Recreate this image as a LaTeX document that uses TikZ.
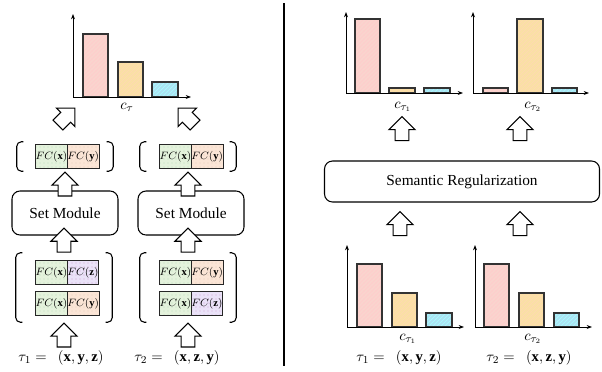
\documentclass[tikz,border=0pt]{standalone}
\usepackage{fontspec}
\setmainfont{Liberation Serif}
\usetikzlibrary{shapes.arrows, arrows.meta, positioning, patterns}

\definecolor{barred}{RGB}{250,212,206}
\definecolor{baryellow}{RGB}{250,224,165}
\definecolor{barcyan}{RGB}{172,226,242}
\definecolor{fcgreen}{RGB}{228,242,220}
\definecolor{fcorange}{RGB}{251,229,214}
\definecolor{fcpurple}{RGB}{234,226,248}

\tikzstyle{module} = [rectangle, rounded corners=6pt, draw=black, line width=0.8pt, fill=white, minimum width=79.5pt, minimum height=33pt, font=\fontsize{11.5}{13}\selectfont]
\tikzstyle{fc_cell} = [rectangle, draw=black!85, line width=0.8pt, inner sep=0pt, outer sep=0pt, minimum width=21.75pt, minimum height=18pt, font=\fontsize{8}{9}\selectfont]
\tikzstyle{fc_x} = [fc_cell, preaction={fill=fcgreen}, pattern=dots, pattern color=green!50!black!25]
\tikzstyle{fc_y} = [fc_cell, preaction={fill=fcorange}, pattern=dots, pattern color=orange!60!black!25]
\tikzstyle{fc_z} = [fc_cell, preaction={fill=fcpurple}, pattern=dots, pattern color=violet!35]
\tikzstyle{group} = [rectangle, inner sep=0pt, minimum width=72pt]
\tikzstyle{bracket} = [line width=0.8pt, rounded corners=3.5pt]
\tikzstyle{hollow_arrow} = [single arrow, draw=black, fill=white, line width=0.8pt, inner xsep=0pt, inner ysep=4.8pt, minimum height=18pt, single arrow head extend=4.6pt]
\tikzstyle{bar} = [draw=black!80, line width=0.9pt]
\tikzstyle{bar_red} = [bar, preaction={fill=barred}, pattern=north east lines, pattern color=red!20]
\tikzstyle{bar_yellow} = [bar, preaction={fill=baryellow}, pattern=north east lines, pattern color=orange!30]
\tikzstyle{bar_cyan} = [bar, preaction={fill=barcyan}, pattern=north east lines, pattern color=cyan!35]
\tikzstyle{axis} = [line width=0.7pt, -{Stealth[length=4pt, width=3pt]}]
\tikzstyle{tau_label} = [font=\fontsize{11}{13}\selectfont]
\tikzstyle{class_label} = [font=\fontsize{11}{13}\selectfont]

\begin{document}
\begin{tikzpicture}[x=0.75pt, y=-0.75pt]

    \useasboundingbox (0,0) rectangle (602,371);

    % Left: two set modules
    \node (fc_top1a) [fc_x] at (51.5,156.5) {$FC(\mathbf{x})$};
    \node (fc_top1b) [fc_y, right=0pt of fc_top1a] {$FC(\mathbf{y})$};
    \node (fc_top2a) [fc_x] at (175.5,156.5) {$FC(\mathbf{x})$};
    \node (fc_top2b) [fc_y, right=0pt of fc_top2a] {$FC(\mathbf{y})$};

    \node (fc_bot1a) [fc_x] at (51.5,272.5) {$FC(\mathbf{x})$};
    \node (fc_bot1b) [fc_z, right=0pt of fc_bot1a] {$FC(\mathbf{z})$};
    \node (fc_bot1c) [fc_x] at (51.5,303.5) {$FC(\mathbf{x})$};
    \node (fc_bot1d) [fc_y, right=0pt of fc_bot1c] {$FC(\mathbf{y})$};

    \node (fc_bot2a) [fc_x] at (175.5,272.5) {$FC(\mathbf{x})$};
    \node (fc_bot2b) [fc_y, right=0pt of fc_bot2a] {$FC(\mathbf{y})$};
    \node (fc_bot2c) [fc_x] at (175.5,303.5) {$FC(\mathbf{x})$};
    \node (fc_bot2d) [fc_z, right=0pt of fc_bot2c] {$FC(\mathbf{z})$};

    \node (grp_top1) [group, minimum height=21.75pt] at (65,156.5) {};
    \node (grp_top2) [group, minimum height=21.75pt] at (188,156.5) {};
    \node (grp_bot1) [group, minimum height=51.75pt] at (64,287.5) {};
    \node (grp_bot2) [group, minimum height=51.75pt] at (188,287.5) {};

    \foreach \g in {grp_top1, grp_top2, grp_bot1, grp_bot2} {
        \draw [bracket] ([xshift=5pt]\g.north west) -- (\g.north west) -- (\g.south west) -- ([xshift=5pt]\g.south west);
        \draw [bracket] ([xshift=-5pt]\g.north east) -- (\g.north east) -- (\g.south east) -- ([xshift=-5pt]\g.south east);
    }

    \node (setmod1) [module] at (65,213) {Set Module};
    \node (setmod2) [module] at (191,213) {Set Module};

    \node (in1) [hollow_arrow, anchor=tip, rotate=90] at (grp_bot1.south) {};
    \node (in2) [hollow_arrow, anchor=tip, rotate=90] at (grp_bot2.south) {};
    \node (mid1) [hollow_arrow, anchor=tail, rotate=90] at (grp_bot1.north) {};
    \node (mid2) [hollow_arrow, anchor=tail, rotate=90] at (grp_bot2.north) {};
    \node (up1) [hollow_arrow, anchor=tip, rotate=90] at (grp_top1.south) {};
    \node (up2) [hollow_arrow, anchor=tip, rotate=90] at (grp_top2.south) {};
    \node (out1) [hollow_arrow, rotate=45] at (64,119) {};
    \node (out2) [hollow_arrow, rotate=135] at (189,119) {};

    \node (tau1) [tau_label] at (61,358) {$\tau_1 =\ \ (\mathbf{x},\mathbf{y},\mathbf{z})$};
    \node (tau2) [tau_label] at (177,358) {$\tau_2 =\ \ (\mathbf{x},\mathbf{z},\mathbf{y})$};

    % Left histogram
    \draw [bar_red] (83,97) rectangle (108,34);
    \draw [bar_yellow] (118,97) rectangle (143,62);
    \draw [bar_cyan] (152,97) rectangle (178,82);
    \draw [axis] (73,97) -- (73,14);
    \draw [axis] (73,97) -- (191,97);
    \node (ctau) [class_label] at (127,107) {$c_\tau$};

    % Divider
    \draw [line width=0.9pt] (284,3) -- (284,366);

    % Right: semantic regularization
    \node (semreg) [module, minimum width=206.25pt, minimum height=30.75pt] at (462,181.5) {Semantic Regularization};

    \node (reg_in1) [hollow_arrow, rotate=90] at (400,227) {};
    \node (reg_in2) [hollow_arrow, rotate=90] at (520,227) {};
    \node (reg_out1) [hollow_arrow, rotate=90] at (402,132) {};
    \node (reg_out2) [hollow_arrow, rotate=90] at (520,132) {};

    % Regularized histograms
    \draw [bar_red] (355,93) rectangle (380,19);
    \draw [bar_yellow] (389,93) rectangle (415,88);
    \draw [bar_cyan] (424,93) rectangle (450,88);
    \draw [axis] (346,93) -- (346,12);
    \draw [axis] (346,93) -- (463,93);
    \node (ctau_r1) [class_label] at (403,107) {$c_{\tau_1}$};

    \draw [bar_red] (483,93) rectangle (508,88);
    \draw [bar_yellow] (517,93) rectangle (543,19);
    \draw [bar_cyan] (552,93) rectangle (577,88);
    \draw [axis] (473,93) -- (473,12);
    \draw [axis] (473,93) -- (589,93);
    \node (ctau_r2) [class_label] at (533,107) {$c_{\tau_2}$};

    % Input histograms
    \draw [bar_red] (357,327) rectangle (382,264);
    \draw [bar_yellow] (392,327) rectangle (417,293);
    \draw [bar_cyan] (426,327) rectangle (452,313);
    \draw [axis] (347,327) -- (347,245);
    \draw [axis] (347,327) -- (464,327);
    \node (ctau_b1) [class_label] at (408,339) {$c_{\tau_1}$};

    \draw [bar_red] (484,327) rectangle (509,264);
    \draw [bar_yellow] (519,327) rectangle (544,293);
    \draw [bar_cyan] (554,327) rectangle (579,313);
    \draw [axis] (475,327) -- (475,245);
    \draw [axis] (475,327) -- (592,327);
    \node (ctau_b2) [class_label] at (533,339) {$c_{\tau_2}$};

    \node (tau_r1) [tau_label] at (399,358) {$\tau_1 =\ \ (\mathbf{x},\mathbf{y},\mathbf{z})$};
    \node (tau_r2) [tau_label] at (529,358) {$\tau_2 =\ \ (\mathbf{x},\mathbf{z},\mathbf{y})$};

\end{tikzpicture}
\end{document}
